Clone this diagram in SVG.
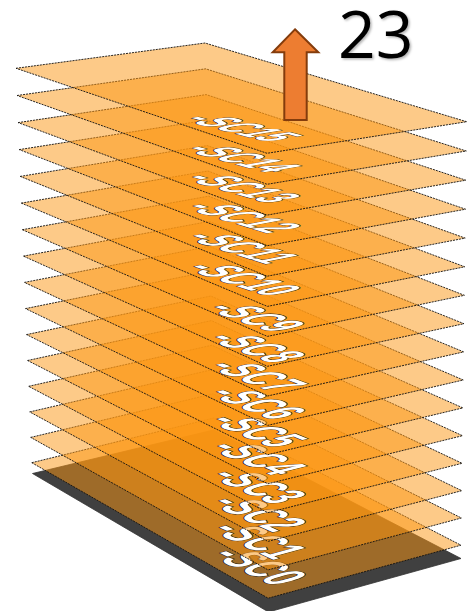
<svg xmlns="http://www.w3.org/2000/svg" width="475" height="611" viewBox="0 0 475 611">
<defs>
<style>
.ly{fill:#FB9511;fill-opacity:.5;stroke:#111;stroke-width:.9;stroke-dasharray:2 1;stroke-linejoin:round}
.base{fill:#404040;stroke:#333;stroke-width:.8}
.lb{font-family:"Liberation Sans",Arial,sans-serif;font-size:20px;font-weight:bold;fill:#fff;stroke:#1a1a1a;stroke-width:.7;paint-order:stroke}
.num{font-family:"Open Sans","Liberation Sans",sans-serif;font-size:66px;fill:#000}
</style>
<filter id="sh" x="-20%" y="-20%" width="140%" height="140%"><feDropShadow dx="1.5" dy="1.5" stdDeviation="1" flood-color="#000" flood-opacity=".3"/></filter>
</defs>
<rect width="475" height="611" fill="#fff"/>
<g id="base"><polygon class="base" points="32.5,473.5 213.5,430 461,558.5 268.5,612"/></g>
<g id="layer-sc0"><polygon class="ly" points="31.8,462.7 213.7,418 461,545.2 268.1,598.2"/><text class="lb" transform="matrix(1.446 0.684 -2.603 0.716 208.59 555.18)">-SC0</text></g>
<g id="layer-sc1"><polygon class="ly" points="30.7,437.4 213.1,393.8 461.4,518 268,569.9"/><text class="lb" transform="matrix(1.454 0.668 -2.608 0.7 208.03 529.64)">-SC1</text></g>
<g id="layer-sc2"><polygon class="ly" points="29.7,411.9 212.5,369.6 461.8,490.7 267.9,541.4"/><text class="lb" transform="matrix(1.461 0.651 -2.612 0.683 207.48 503.09)">-SC2</text></g>
<g id="layer-sc3"><polygon class="ly" points="28.6,386.3 212,345.2 462.1,463.3 267.8,512.7"/><text class="lb" transform="matrix(1.469 0.634 -2.617 0.666 206.93 476.04)">-SC3</text></g>
<g id="layer-sc4"><polygon class="ly" points="27.6,360.5 211.4,320.6 462.5,435.7 267.8,483.8"/><text class="lb" transform="matrix(1.476 0.617 -2.621 0.648 206.38 447.98)">-SC4</text></g>
<g id="layer-sc5"><polygon class="ly" points="26.5,334.6 210.8,296 462.9,407.9 267.7,454.7"/><text class="lb" transform="matrix(1.484 0.599 -2.625 0.629 205.83 420.92)">-SC5</text></g>
<g id="layer-sc6"><polygon class="ly" points="25.5,308.6 210.2,271.2 463.3,380 267.6,425.4"/><text class="lb" transform="matrix(1.491 0.58 -2.63 0.611 205.27 393.87)">-SC6</text></g>
<g id="layer-sc7"><polygon class="ly" points="24.4,282.4 209.6,246.4 463.7,351.9 267.6,396"/><text class="lb" transform="matrix(1.498 0.561 -2.634 0.592 204.73 366.82)">-SC7</text></g>
<g id="layer-sc8"><polygon class="ly" points="23.4,256.1 209.1,221.4 464,323.7 267.5,366.3"/><text class="lb" transform="matrix(1.505 0.542 -2.639 0.572 204.17 338.76)">-SC8</text></g>
<g id="layer-sc9"><polygon class="ly" points="22.3,229.7 208.5,196.2 464.4,295.3 267.4,336.4"/><text class="lb" transform="matrix(1.512 0.522 -2.643 0.552 203.62 308.7)">-SC9</text></g>
<g id="layer-sc10"><polygon class="ly" points="21.3,203.1 207.9,171 464.8,266.8 267.4,306.4"/><text class="lb" transform="matrix(1.519 0.501 -2.647 0.532 182.58 268.15)">-SC10</text></g>
<g id="layer-sc11"><polygon class="ly" points="20.2,176.4 207.3,145.6 465.2,238.1 267.3,276.2"/><text class="lb" transform="matrix(1.526 0.481 -2.651 0.511 182.03 237.58)">-SC11</text></g>
<g id="layer-sc12"><polygon class="ly" points="19.2,149.6 206.7,120.2 465.6,209.2 267.2,245.7"/><text class="lb" transform="matrix(1.533 0.46 -2.655 0.489 181.48 207.51)">-SC12</text></g>
<g id="layer-sc13"><polygon class="ly" points="18.1,122.6 206.2,94.6 465.9,180.2 267.1,215.1"/><text class="lb" transform="matrix(1.539 0.438 -2.659 0.467 180.93 178.45)">-SC13</text></g>
<g id="layer-sc14"><polygon class="ly" points="17.1,95.5 205.6,68.8 466.3,151 267.1,184.3"/><text class="lb" transform="matrix(1.545 0.415 -2.663 0.445 180.39 149.39)">-SC14</text></g>
<g id="layer-sc15"><polygon class="ly" points="16,68.3 205,43 466.7,121.7 267,153.3"/><text class="lb" transform="matrix(1.551 0.393 -2.667 0.422 180.05 119.62)">-SC15</text></g>
<g id="arrow"><polygon points="295,29.3 318.3,52.3 306.7,52.3 306.7,120 284.3,120 284.3,52.3 272.7,52.3" fill="#ED7D31" stroke="#843C0C" stroke-width="2" stroke-linejoin="miter"/></g>
<g id="label-23"><text class="num" x="338" y="58" filter="url(#sh)">23</text></g>
</svg>
